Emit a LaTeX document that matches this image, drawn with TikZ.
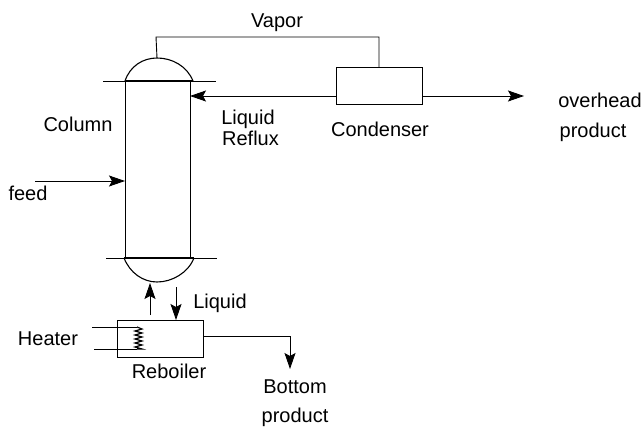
\documentclass[tikz,border=0pt]{standalone}
\usepackage{fontspec}
\setmainfont{Liberation Sans}
\usetikzlibrary{arrows.meta}
\tikzset{
  x=1pt,y=-1pt,
  pipe/.style={line width=0.9pt,black},
  flow/.style={pipe,-{Stealth[length=16pt,width=11pt,inset=3pt]}},
  unitbox/.style={draw,line width=1pt,minimum width=0,inner sep=0,rectangle},
  lbl/.style={font=\fontsize{20pt}{22pt}\selectfont,text=black,inner sep=0,anchor=base},
}
\begin{document}
\begin{tikzpicture}
\useasboundingbox (0,0) rectangle (644,427);
% column
\coordinate (cTL) at (125,81);
\coordinate (cTR) at (190,81);
\coordinate (cBL) at (125,257);
\coordinate (cBR) at (190,257);
\coordinate (top) at (157,58);
\coordinate (bot) at (157,282);
\coordinate (feedin) at (125,181);
\coordinate (feedout) at (35,181);
\draw[pipe] (cTL) -- (cBL) (cTR) -- (cBR);
\draw[pipe,line width=1.2pt] (125,81) -- (193,81);
\draw[pipe,line width=1.2pt] (124,258) -- (194,258);
\draw[pipe] (103,81) -- (216,81);
\draw[pipe] (106,258) -- (217,258);
\draw[pipe,line width=1.1pt] (125,81) .. controls (130,66) and (143,58) .. (top) .. controls (172,58) and (187,66) .. (193,81);
\draw[pipe,line width=1.1pt] (124,258) .. controls (130,273) and (143,282) .. (bot) .. controls (172,282) and (188,273) .. (194,258);
% units
\node[unitbox,minimum width=86pt,minimum height=37pt] (cond) at (379,86.5) {};
\node[unitbox,minimum width=86pt,minimum height=37pt] (reb) at (160,338.5) {};
% vapor
\draw[pipe] (top) -- (156,37) -| (cond.north);
% reflux
\coordinate (refluxin) at (190,96);
\draw[flow] (cond.west |- 0,96) -- (refluxin);
% overhead
\coordinate (ohend) at (524,96);
\draw[flow] (cond.east |- 0,96) -- (ohend);
% feed
\draw[flow] (feedout) -- (feedin);
% reboiler links
\draw[flow] (150,315) -- (150,283);
\draw[flow] (176,287) -- (176,320);
\coordinate (botend) at (290,369);
\draw[flow] (reb.east |- 0,336) -| (botend);
% heater
\draw[pipe] (92,327) -- (137,327);
\draw[pipe] (94,349) -- (137,349);
\draw[pipe,line width=1.2pt] (137,327) -- (142,329) -- (135,331) -- (142,333) -- (135,335) -- (142,337) -- (135,339) -- (142,341) -- (135,343) -- (142,345) -- (135,347) -- (142,349) -- (137,349);
% labels
\node[lbl] (tv) at (277,28) {Vapor};
\node[lbl] (tcol) at (78,132) {Column};
\node[lbl] (tf) at (28,201) {feed};
\node[lbl] (tr1) at (248,125) {Liquid};
\node[lbl] (tr2) at (250.5,146) {Reflux};
\node[lbl] (tc) at (380,137) {Condenser};
\node[lbl] (to) at (600,108) {overhead};
\node[lbl] (tp) at (593,138) {product};
\node[lbl] (tl) at (220,308) {Liquid};
\node[lbl] (th) at (48,345) {Heater};
\node[lbl] (trb) at (169,378) {Reboiler};
\node[lbl] (tb) at (295,393) {Bottom};
\node[lbl] (tbp) at (295,422) {product};
\end{tikzpicture}
\end{document}
